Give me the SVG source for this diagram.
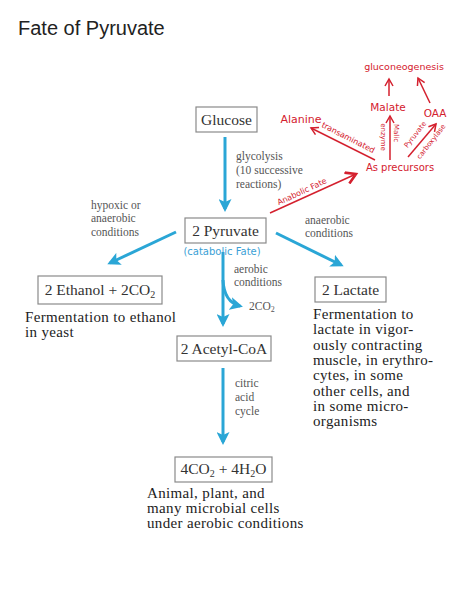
<svg xmlns="http://www.w3.org/2000/svg" width="474" height="600" viewBox="0 0 474 600">
<style>
.box{fill:#fff;stroke:#8a8a8a;stroke-width:1.2}
.nt{font-family:"Liberation Serif",serif;font-size:15.5px;fill:#333;text-anchor:middle}
.lb{font-family:"Liberation Serif",serif;font-size:11.5px;fill:#555}
.ds{font-family:"Liberation Serif",serif;font-size:15px;letter-spacing:0.35px;fill:#222}
.bl{stroke:#2aa6d6;stroke-width:3;fill:none}
.rd{stroke:#d4202e;stroke-width:1.5;fill:none}
.rt{font-family:"DejaVu Sans",sans-serif;fill:#d4202e}
</style>
<defs>
<marker id="ab" markerUnits="userSpaceOnUse" markerWidth="13" markerHeight="13" refX="10" refY="6.5" orient="auto">
<path d="M0,0 L13,6.5 L0,13 L3,6.5 z" fill="#2aa6d6"/>
</marker>
<marker id="ar" markerUnits="userSpaceOnUse" markerWidth="10" markerHeight="10" refX="8" refY="5" orient="auto">
<path d="M1,1 L8,5 L1,9" fill="none" stroke="#d4202e" stroke-width="1.5"/>
</marker>
<marker id="ar2" markerUnits="userSpaceOnUse" markerWidth="14" markerHeight="14" refX="11" refY="7" orient="auto">
<path d="M1,1 L11,7 L1,13" fill="none" stroke="#d4202e" stroke-width="2.6"/>
</marker>
</defs>
<rect width="474" height="600" fill="#fff"/>
<text x="18" y="35" font-family="Liberation Sans, sans-serif" font-size="20" fill="#222">Fate of Pyruvate</text>

<g id="connectors">
<line class="bl" x1="225" y1="137" x2="225" y2="209" marker-end="url(#ab)"/>
<line class="bl" x1="176" y1="232" x2="110" y2="263" marker-end="url(#ab)"/>
<line class="bl" x1="276" y1="233" x2="341" y2="265" marker-end="url(#ab)"/>
<line class="bl" x1="223" y1="252" x2="223" y2="324" marker-end="url(#ab)"/>
<path class="bl" d="M223,280 Q224,302 240,306" marker-end="url(#ab)"/>
<line class="bl" x1="223" y1="368" x2="223" y2="442" marker-end="url(#ab)"/>
<line class="rd" x1="270" y1="213" x2="356" y2="174" stroke-width="2.6" marker-end="url(#ar2)"/>
<line class="rd" x1="375" y1="160" x2="311" y2="128" marker-end="url(#ar)"/>
<line class="rd" x1="390" y1="160" x2="390" y2="116" marker-end="url(#ar)"/>
<line class="rd" x1="408" y1="157" x2="436" y2="124" marker-end="url(#ar)"/>
<line class="rd" x1="389" y1="96" x2="389" y2="79" marker-end="url(#ar)"/>
<line class="rd" x1="430" y1="103" x2="418" y2="78" marker-end="url(#ar)"/>
</g>

<g id="labels">
<text class="lb" x="236" y="160">glycolysis</text>
<text class="lb" x="236" y="174">(10 successive</text>
<text class="lb" x="236" y="188">reactions)</text>
<text class="lb" x="91" y="209">hypoxic or</text>
<text class="lb" x="91" y="222">anaerobic</text>
<text class="lb" x="91" y="236">conditions</text>
<text class="lb" x="305" y="224">anaerobic</text>
<text class="lb" x="305" y="237">conditions</text>
<text class="lb" x="234" y="273">aerobic</text>
<text class="lb" x="234" y="286">conditions</text>
<text class="lb" x="249" y="310">2CO<tspan font-size="8" dy="2">2</tspan></text>
<text class="lb" x="235" y="387">citric</text>
<text class="lb" x="235" y="401">acid</text>
<text class="lb" x="235" y="415">cycle</text>
<text x="222" y="255" font-family="DejaVu Sans, sans-serif" font-size="10" fill="#3a9fd6" text-anchor="middle">(catabolic Fate)</text>
</g>

<g id="glucose"><rect class="box" x="196" y="107" width="61" height="25"/><text class="nt" x="226.5" y="125">Glucose</text></g>
<g id="pyruvate"><rect class="box" x="185" y="218" width="81" height="25"/><text class="nt" x="225.5" y="236">2 Pyruvate</text></g>
<g id="ethanol"><rect class="box" x="38" y="276" width="124" height="28"/><text class="nt" x="100" y="295">2 Ethanol + 2CO<tspan font-size="10" dy="3">2</tspan></text></g>
<g id="lactate"><rect class="box" x="315" y="277" width="71" height="25"/><text class="nt" x="350.5" y="295">2 Lactate</text></g>
<g id="acetyl"><rect class="box" x="177" y="336" width="94" height="25"/><text class="nt" x="224" y="354">2 Acetyl-CoA</text></g>
<g id="co2h2o"><rect class="box" x="175" y="457" width="97" height="25"/><text class="nt" x="223.5" y="474">4CO<tspan font-size="10" dy="3">2</tspan><tspan dy="-3"> + 4H</tspan><tspan font-size="10" dy="3">2</tspan><tspan dy="-3">O</tspan></text></g>

<g id="descriptions">
<text class="ds" x="25" y="322">Fermentation to ethanol</text>
<text class="ds" x="25" y="337">in yeast</text>
<text class="ds" x="313" y="319">Fermentation to</text>
<text class="ds" x="313" y="334">lactate in vigor-</text>
<text class="ds" x="313" y="350">ously contracting</text>
<text class="ds" x="313" y="365">muscle, in erythro-</text>
<text class="ds" x="313" y="380">cytes, in some</text>
<text class="ds" x="313" y="396">other cells, and</text>
<text class="ds" x="313" y="411">in some micro-</text>
<text class="ds" x="313" y="426">organisms</text>
<text class="ds" x="147" y="498">Animal, plant, and</text>
<text class="ds" x="147" y="513">many microbial cells</text>
<text class="ds" x="147" y="528">under aerobic conditions</text>
</g>

<g id="annotations">
<text class="rt" x="404" y="70" font-size="9.5" text-anchor="middle">gluconeogenesis</text>
<text class="rt" x="388" y="111" font-size="10.5" text-anchor="middle">Malate</text>
<text class="rt" x="435" y="117" font-size="10.5" text-anchor="middle">OAA</text>
<text class="rt" x="301" y="123" font-size="11" text-anchor="middle">Alanine</text>
<text class="rt" x="400" y="171" font-size="10" text-anchor="middle">As precursors</text>
<text class="rt" font-size="8" text-anchor="middle" transform="translate(303,194) rotate(-25)">Anabolic Fate</text>
<text class="rt" font-size="8" text-anchor="middle" transform="translate(347,140) rotate(27)">transaminated</text>
<text class="rt" font-size="7" text-anchor="middle" transform="translate(381,137) rotate(90)">enzyme</text>
<text class="rt" font-size="7" text-anchor="middle" transform="translate(394,133) rotate(90)">Malic</text>
<text class="rt" font-size="7" text-anchor="middle" transform="translate(417,136) rotate(-52)">Pyruvate</text>
<text class="rt" font-size="7" text-anchor="middle" transform="translate(433,143) rotate(-52)">carboxylase</text>
</g>
</svg>
